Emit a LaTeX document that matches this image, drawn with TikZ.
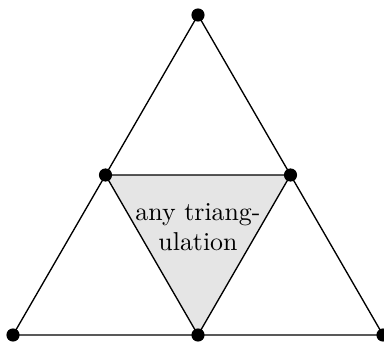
\documentclass[tikz,border=0pt]{standalone}
\begin{document}
\begin{tikzpicture}[x=0.41pt,y=0.41pt]
  \useasboundingbox (0,0) rectangle (384,341);
  % outer corners and midpoints
  \coordinate (left) at (13,6);
  \coordinate (right) at (383,6);
  \coordinate (top) at (198,326);
  \coordinate (midl) at (105.5,166);
  \coordinate (midr) at (290.5,166);
  \coordinate (midb) at (198,6);
  % middle triangle
  \fill[black!10] (midl) -- (midr) -- (midb) -- cycle;
  \draw[black,line width=0.55pt] (left) -- (right) -- (top) -- cycle;
  \draw[black,line width=0.55pt] (midl) -- (midr) -- (midb) -- cycle;
  \node[align=center,inner sep=0pt,font=\fontsize{10.6}{12.2}\selectfont] (label) at (198,114) {any triang-\\ulation};
  % vertices
  \foreach \v in {left,right,top,midl,midr,midb}
    \fill[black] (\v) circle (2.7pt);
\end{tikzpicture}
\end{document}
